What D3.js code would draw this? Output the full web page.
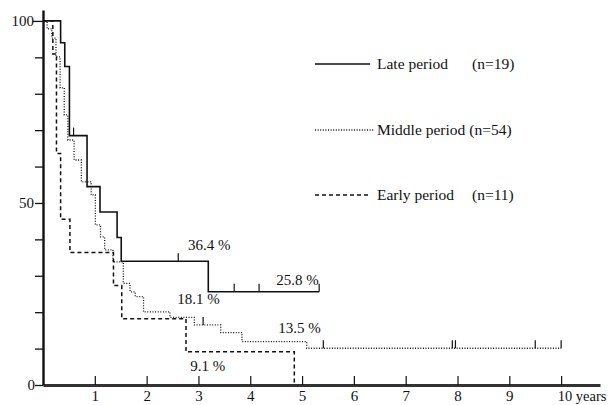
<!DOCTYPE html>
<html>
<head>
<meta charset="utf-8">
<script src="https://cdn.jsdelivr.net/npm/d3@7"></script>
<style>
  html, body { margin: 0; padding: 0; background: #fff; }
  svg text { font-family: "Liberation Serif", "Times New Roman", serif; fill: #111; }
</style>
</head>
<body>
<svg id="chart" width="611" height="405"></svg>
<script>
// ---- data ----
const lateTimes   = [0, 0.34, 0.42, 0.51, 0.85, 1.10, 1.43, 1.51, 3.19, 5.33];
const lateSurv    = [100, 94, 87.5, 68.5, 54.5, 47.5, 40.5, 34, 25.6, 25.6];
const lateCensor  = [0.59, 2.61, 3.69, 4.17, 5.33];

const middleTimes  = [0, 0.08, 0.17, 0.25, 0.33, 0.41, 0.48, 0.60, 0.74, 0.93, 1.01, 1.11, 1.19, 1.35, 1.55, 1.68, 1.78, 1.94, 2.45, 2.92, 3.43, 3.84, 5.09, 10.0];
const middleSurv   = [100, 97.8, 95.3, 90.1, 81.6, 74.2, 67.3, 61.8, 55.8, 52.2, 44, 40.7, 37.1, 33.8, 27.9, 25.6, 24.3, 20.1, 18.6, 16.5, 14.4, 11.9, 10.1, 10.1];
const middleCensor = [3.09, 5.41, 7.90, 7.96, 9.50, 10.0];

const earlyTimes  = [0, 0.19, 0.26, 0.34, 0.52, 1.36, 1.52, 2.76, 4.85];
const earlySurv   = [100, 90.9, 63.6, 45.5, 36.4, 27.3, 18.2, 9.1, 0];
const earlyCensor = [];

const xTicks = [1, 2, 3, 4, 5, 6, 7, 8, 9, 10];
const yTicks = [0, 10, 20, 30, 40, 50, 60, 70, 80, 90, 100];
const yLabels = [0, 50, 100];

const annLabels = ["36.4 %", "25.8 %", "18.1 %", "13.5 %", "9.1 %"];
const annT      = [2.80, 4.50, 2.59, 4.54, 2.84];
const annV      = [37.1, 27.5, 22.2, 14.4, 3.8];

const legendNames = ["Late period", "Middle period", "Early period"];
const legendN     = ["(n=19)", "(n=54)", "(n=11)"];

// ---- drawing ----
const svg = d3.select("#chart");
const x = d3.scaleLinear().domain([0, 10.75]).range([43, 600]);
const y = d3.scaleLinear().domain([0, 103]).range([385, 10]);

const styles = {
  late:   { dash: null,    width: 1.6 },
  middle: { dash: "1,1.6", width: 1.3 },
  early:  { dash: "4,3",   width: 1.5 }
};

const series = [
  { key: "late",   t: lateTimes,   s: lateSurv,   c: lateCensor },
  { key: "middle", t: middleTimes, s: middleSurv, c: middleCensor },
  { key: "early",  t: earlyTimes,  s: earlySurv,  c: earlyCensor }
];

const line = d3.line().x(d => x(d[0])).y(d => y(d[1])).curve(d3.curveStepAfter);

function survAt(ser, t) {
  let v = ser.s[0];
  for (let i = 0; i < ser.t.length; i++) { if (ser.t[i] <= t) v = ser.s[i]; }
  return v;
}

series.forEach(ser => {
  const pts = ser.t.map((t, i) => [t, ser.s[i]]);
  const st = styles[ser.key];
  svg.append("path")
    .attr("d", line(pts))
    .attr("fill", "none")
    .attr("stroke", "#111")
    .attr("stroke-width", st.width)
    .attr("stroke-dasharray", st.dash);
  ser.c.forEach(ct => {
    const v = survAt(ser, ct);
    svg.append("line")
      .attr("x1", x(ct)).attr("x2", x(ct))
      .attr("y1", y(v)).attr("y2", y(v) - 8)
      .attr("stroke", "#111").attr("stroke-width", 1.2);
  });
});

// x axis
const xAxis = d3.axisBottom(x)
  .tickValues(xTicks)
  .tickSize(-9)
  .tickSizeOuter(0)
  .tickFormat(d => d === 10 ? "10 years" : d);
const gx = svg.append("g").attr("transform", "translate(0,385)").call(xAxis);
gx.select(".domain").attr("stroke", "#333").attr("stroke-width", 3);
gx.selectAll(".tick line").attr("stroke", "#111").attr("stroke-width", 1.2);
gx.selectAll(".tick text")
  .attr("font-size", 15).attr("dy", 0).attr("y", 16)
  .style("font-family", "'Liberation Serif', serif").attr("fill", "#111");
gx.selectAll(".tick").filter(d => d === 10).select("text")
  .attr("text-anchor", "start").attr("x", -4).attr("y", 16).attr("font-size", 14.5);

// y axis
const yAxis = d3.axisLeft(y)
  .tickValues(yTicks)
  .tickSize(8)
  .tickSizeOuter(0)
  .tickFormat(d => yLabels.includes(d) ? d : "");
const gy = svg.append("g").attr("transform", "translate(43,0)").call(yAxis);
gy.select(".domain").attr("stroke", "#111").attr("stroke-width", 2.4);
gy.selectAll(".tick line").attr("stroke", "#111").attr("stroke-width", 1.3);
gy.selectAll(".tick text")
  .attr("font-size", 15).attr("x", -9).attr("dy", "0.33em")
  .style("font-family", "'Liberation Serif', serif").attr("fill", "#111");
gy.selectAll(".tick").filter(d => d === 100).select("line").attr("x2", -10);
gy.selectAll(".tick").filter(d => d === 0).select("text").attr("x", -8);

// annotations
annLabels.forEach((txt, i) => {
  svg.append("text")
    .attr("x", x(annT[i])).attr("y", y(annV[i]))
    .attr("font-size", 15)
    .text(txt);
});

// legend
const legY = [64, 130, 195];
const legStyle = ["late", "middle", "early"];
legendNames.forEach((nm, i) => {
  const st = styles[legStyle[i]];
  svg.append("line")
    .attr("x1", 315).attr("x2", i === 1 ? 374 : 370)
    .attr("y1", legY[i]).attr("y2", legY[i])
    .attr("stroke", "#111").attr("stroke-width", st.width)
    .attr("stroke-dasharray", st.dash);
  const nameText = svg.append("text").attr("x", 377).attr("y", legY[i] + 5)
    .attr("font-size", 15.5).text(nm);
  const nx = i === 1 ? 377 + nameText.node().getComputedTextLength() + 4 : 472;
  svg.append("text").attr("x", nx).attr("y", legY[i] + 5)
    .attr("font-size", 15.5)
    .text(legendN[i]);
});
</script>
</body>
</html>
